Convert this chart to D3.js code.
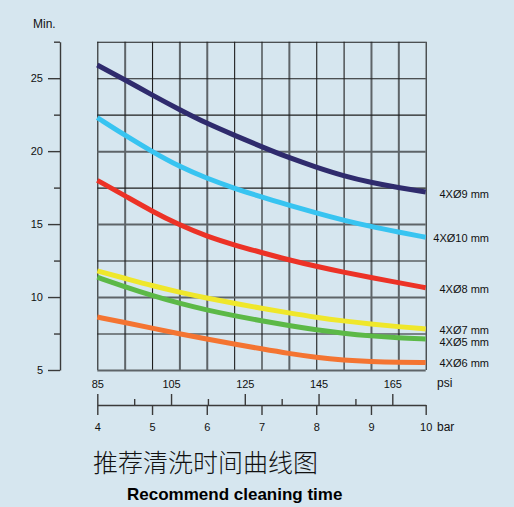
<!DOCTYPE html>
<html>
<head>
<meta charset="utf-8">
<script src="https://cdn.jsdelivr.net/npm/d3@7"></script>
<style>
  html, body { margin: 0; padding: 0; background: #d6e6ef; }
  svg { display: block; font-family: "Liberation Sans", Arial, sans-serif; }
  .grid line { stroke: #1e1e1e; stroke-width: 1.1; }
  .grid line.heavy { stroke: #5e6468; stroke-width: 2; }
  .grid path { display: none; }
  .axis path, .axis line { stroke: #3a3a3a; stroke-width: 1.4; }
  .axis text { font-size: 11px; fill: #111; }
</style>
</head>
<body>
<div id="chart"></div>
<script>
// pressure in bar, one point every half bar
var bar = [4, 4.5, 5, 5.5, 6, 6.5, 7, 7.5, 8, 8.5, 9, 9.5, 10];

// cleaning time (min) per nozzle size
var nozzle9  = [25.9, 24.9, 23.85, 22.85, 21.9, 21.1, 20.3, 19.55, 18.9, 18.3, 17.85, 17.5, 17.2];
var nozzle10 = [22.3, 21.1, 19.97, 18.94, 18.14, 17.46, 16.85, 16.3, 15.76, 15.26, 14.83, 14.46, 14.1];
var nozzle8  = [18.0, 16.95, 15.88, 14.94, 14.16, 13.57, 13.05, 12.55, 12.1, 11.7, 11.33, 10.99, 10.64];
var nozzle7  = [11.79, 11.29, 10.78, 10.33, 9.93, 9.57, 9.23, 8.91, 8.61, 8.36, 8.15, 7.97, 7.81];
var nozzle5  = [11.36, 10.71, 10.1, 9.57, 9.11, 8.72, 8.37, 8.04, 7.75, 7.51, 7.33, 7.2, 7.13];
var nozzle6  = [8.63, 8.26, 7.87, 7.48, 7.12, 6.78, 6.45, 6.13, 5.86, 5.68, 5.58, 5.53, 5.52];

var seriesNames = ["4XØ9 mm", "4XØ10 mm", "4XØ8 mm", "4XØ7 mm", "4XØ5 mm", "4XØ6 mm"];
var seriesValues = [nozzle9, nozzle10, nozzle8, nozzle7, nozzle5, nozzle6];
var seriesColors = ["#2f2b6d", "#38c4f1", "#ec3226", "#efe72b", "#5cb947", "#f47431"];
var labelNudge = [2.5, 1, 1.3, 1, 3.3, 1];   // px, label offset below line end

var minTicks = [5, 10, 15, 20, 25];
var psiTicks = [85, 105, 125, 145, 165];
var psiMinor = [95, 115, 135, 155];
var barTicks = [4, 5, 6, 7, 8, 9, 10];

var width = 514, height = 507;
var plot = {left: 97.3, right: 425.7, top: 41.7, bottom: 370};

var svg = d3.select("#chart").append("svg")
  .attr("width", width)
  .attr("height", height);

svg.append("rect")
  .attr("width", width).attr("height", height)
  .attr("fill", "#d6e6ef");

var x = d3.scaleLinear().domain([4, 10]).range([plot.left, plot.right]);
var y = d3.scaleLinear().domain([5, 27.5]).range([plot.bottom, plot.top]);
// psi labels are not a true conversion of the bar scale, just placed under it
var xPsi = d3.scaleLinear().domain([85, 165]).range([97.3, 392.3]);

// grid
var gridV = svg.append("g").attr("class", "grid")
  .attr("transform", "translate(0," + plot.bottom + ")")
  .call(d3.axisBottom(x).tickValues(d3.range(4, 10.01, 0.5))
    .tickSize(-(plot.bottom - plot.top)).tickFormat(""));
gridV.selectAll(".tick line").classed("heavy", function(d, i){ return [1, 3, 4, 7, 10, 11].indexOf(i) >= 0; });

var gridH = svg.append("g").attr("class", "grid")
  .attr("transform", "translate(" + plot.left + ",0)")
  .call(d3.axisLeft(y).tickValues(d3.range(5, 27.51, 2.5))
    .tickSize(-(plot.right - plot.left)).tickFormat(""));
gridH.selectAll(".tick line").classed("heavy", function(d){ return d % 5 === 0 && d < 25; });

// left axis (Min.)
svg.append("g").attr("class", "axis")
  .attr("transform", "translate(60,0)")
  .call(d3.axisLeft(y).tickValues(minTicks).tickSize(12).tickPadding(5).tickSizeOuter(0));
svg.append("g").attr("class", "axis")
  .attr("transform", "translate(60,0)")
  .call(d3.axisLeft(y).tickValues([7.5, 12.5, 17.5, 22.5, 27.5]).tickSize(6).tickFormat("").tickSizeOuter(0))
  .select(".domain").remove();

svg.append("text")
  .attr("x", 33).attr("y", 27.5)
  .attr("font-size", "12px").attr("fill", "#111")
  .text("Min.");

// psi labels under grid
var psiLabels = svg.append("g").attr("class", "axis")
  .attr("transform", "translate(0," + plot.bottom + ")")
  .call(d3.axisBottom(xPsi).tickValues(psiTicks).tickSize(0).tickPadding(10));
psiLabels.select(".domain").remove();

svg.append("text")
  .attr("x", 437).attr("y", 386.5)
  .attr("font-size", "12px").attr("fill", "#111")
  .text("psi");

// bar axis with psi ticks upward
var barY = 405;
svg.append("g").attr("class", "axis")
  .attr("transform", "translate(0," + barY + ")")
  .call(d3.axisBottom(x).tickValues(barTicks).tickSize(10).tickPadding(8)
    .tickSizeOuter(0).tickFormat(d3.format("d")));
svg.append("g").attr("class", "axis")
  .attr("transform", "translate(0," + barY + ")")
  .call(d3.axisTop(xPsi).tickValues(psiTicks).tickSize(11).tickFormat(""))
  .select(".domain").remove();
svg.append("g").attr("class", "axis")
  .attr("transform", "translate(0," + barY + ")")
  .call(d3.axisTop(xPsi).tickValues(psiMinor).tickSize(6).tickFormat(""))
  .select(".domain").remove();

svg.append("text")
  .attr("x", 437).attr("y", 431)
  .attr("font-size", "12px").attr("fill", "#111")
  .text("bar");

// curves
var line = d3.line()
  .x(function(d){ return x(d[0]); })
  .y(function(d){ return y(d[1]); })
  .curve(d3.curveBasis);

seriesValues.forEach(function(vals, i){
  var pts = bar.map(function(b, j){ return [b, vals[j]]; });
  svg.append("path")
    .datum(pts)
    .attr("d", line)
    .attr("fill", "none")
    .attr("stroke", seriesColors[i])
    .attr("stroke-width", 5)
    .attr("stroke-linecap", "butt");

  svg.append("text")
    .attr("x", 489)
    .attr("y", y(vals[vals.length - 1]) + labelNudge[i])
    .attr("dy", "0.35em")
    .attr("text-anchor", "end")
    .attr("font-size", "11px")
    .attr("fill", "#111")
    .text(seriesNames[i]);
});

// titles
svg.append("text")
  .attr("x", 93).attr("y", 472)
  .attr("font-family", "'Noto Sans CJK SC', sans-serif")
  .attr("font-weight", 300)
  .attr("font-size", "25px")
  .attr("fill", "#111")
  .text("推荐清洗时间曲线图");

svg.append("text")
  .attr("x", 127).attr("y", 500)
  .attr("font-size", "17px")
  .attr("font-weight", "bold")
  .attr("fill", "#000")
  .text("Recommend cleaning time");
</script>
</body>
</html>
